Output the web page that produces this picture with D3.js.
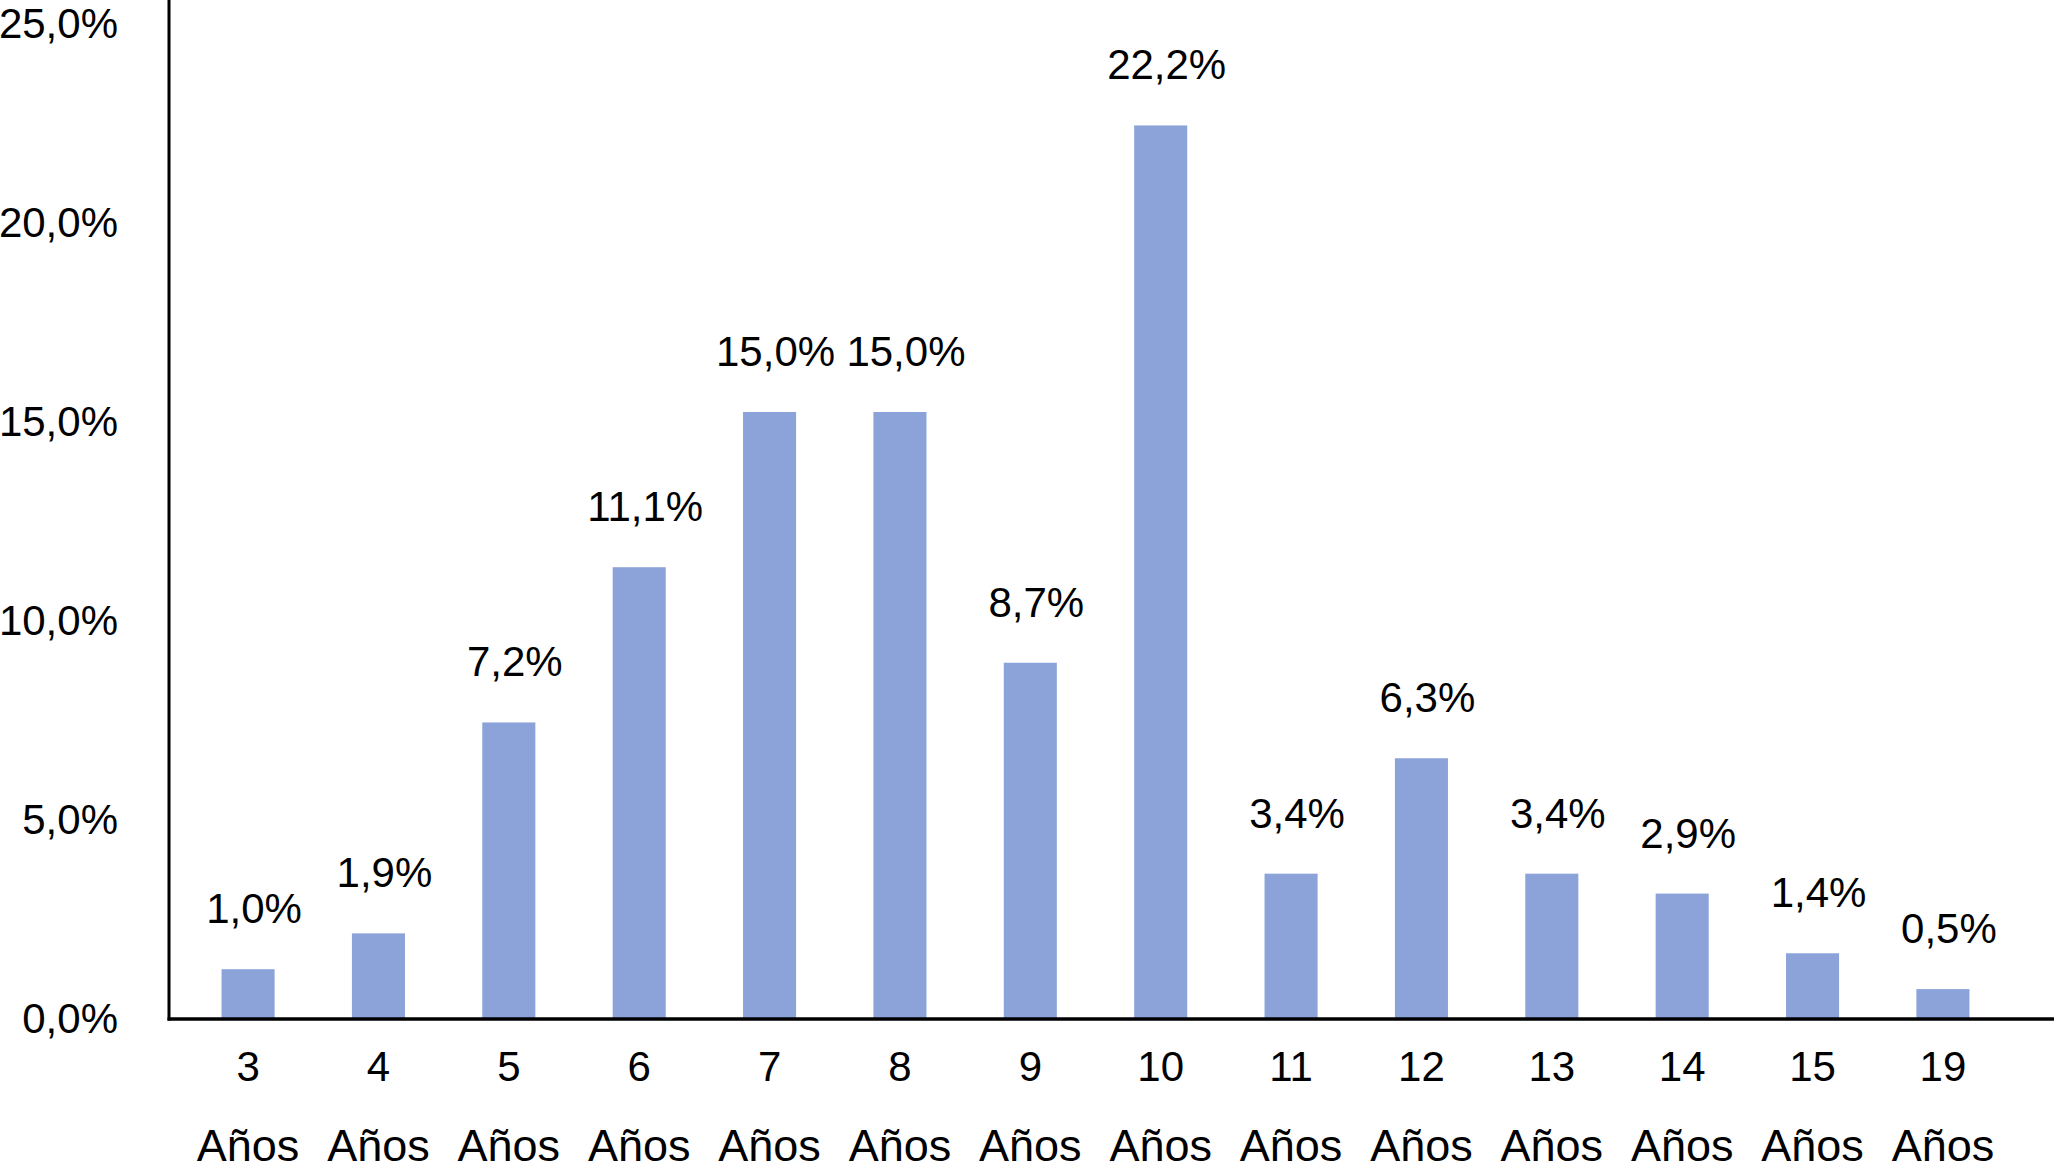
<!DOCTYPE html>
<html>
<head>
<meta charset="utf-8">
<script src="https://cdn.jsdelivr.net/npm/d3@7"></script>
<style>
  html, body { margin: 0; padding: 0; background: #fff; }
  svg { display: block; }
  text { font-family: "Liberation Sans", Arial, Helvetica, sans-serif; fill: #000; }
</style>
</head>
<body>
<svg id="chart" width="2054" height="1170"></svg>
<script>
// ---- data ----
const categories = ["3", "4", "5", "6", "7", "8", "9", "10", "11", "12", "13", "14", "15", "19"];
const unitLabel = "Años";
const values = [1.0, 1.9, 7.2, 11.1, 15.0, 15.0, 8.7, 22.2, 3.4, 6.3, 3.4, 2.9, 1.4, 0.5];
const yTicks = [0, 5, 10, 15, 20, 25];

const fmt = v => v.toFixed(1).replace(".", ",") + "%";

// ---- layout ----
const W = 2054, H = 1170;
const axisX = 169;        // vertical axis line position
const axisY = 1019;       // horizontal axis line position
const svg = d3.select("#chart");

const x = d3.scaleBand()
  .domain(categories)
  .range([axisX, 2022])
  .paddingInner(0.593)
  .paddingOuter(0.403);

const y = d3.scaleLinear()
  .domain([0, 25])
  .range([1009, 14]);

const barColor = "#8ba3d8";

// bars
svg.append("g").selectAll("rect")
  .data(values)
  .join("rect")
  .attr("x", (d, i) => x(categories[i]))
  .attr("width", x.bandwidth())
  .attr("y", d => y(d))
  .attr("height", d => axisY - y(d))
  .attr("fill", barColor);

// value labels
svg.append("g").selectAll("text")
  .data(values)
  .join("text")
  .attr("x", (d, i) => x(categories[i]) + x.bandwidth() / 2 + 6)
  .attr("y", d => y(d) - 46)
  .attr("text-anchor", "middle")
  .attr("font-size", 42)
  .text(d => fmt(d));

// y axis labels
const yAxis = d3.axisLeft(y)
  .tickValues(yTicks)
  .tickFormat(fmt)
  .tickSize(0)
  .tickPadding(0);
const gy = svg.append("g")
  .attr("transform", "translate(118,10)")
  .call(yAxis);
gy.select(".domain").remove();
gy.selectAll("text")
  .attr("font-size", 42)
  .attr("font-family", "'Liberation Sans', Arial, Helvetica, sans-serif")
  .attr("fill", "#000");

// x axis labels (two lines)
const xAxis = d3.axisBottom(x).tickSize(0).tickPadding(0);
const gx = svg.append("g")
  .attr("transform", `translate(0,${axisY})`)
  .call(xAxis);
gx.select(".domain").remove();
gx.selectAll("text").each(function(d) {
  const t = d3.select(this);
  t.text(null)
    .attr("y", 0)
    .attr("dy", null)
    .attr("font-size", 42)
    .attr("font-family", "'Liberation Sans', Arial, Helvetica, sans-serif")
    .attr("fill", "#000");
  t.append("tspan").attr("x", 0).attr("y", 62).text(d);
  t.append("tspan").attr("x", 0).attr("y", 142).attr("font-size", 45).text(unitLabel);
});

// axis lines
svg.append("line")
  .attr("x1", axisX).attr("x2", axisX)
  .attr("y1", 0).attr("y2", axisY + 1.5)
  .attr("stroke", "#000").attr("stroke-width", 3);
svg.append("line")
  .attr("x1", axisX - 1.5).attr("x2", W)
  .attr("y1", axisY).attr("y2", axisY)
  .attr("stroke", "#000").attr("stroke-width", 3.5);
</script>
</body>
</html>
